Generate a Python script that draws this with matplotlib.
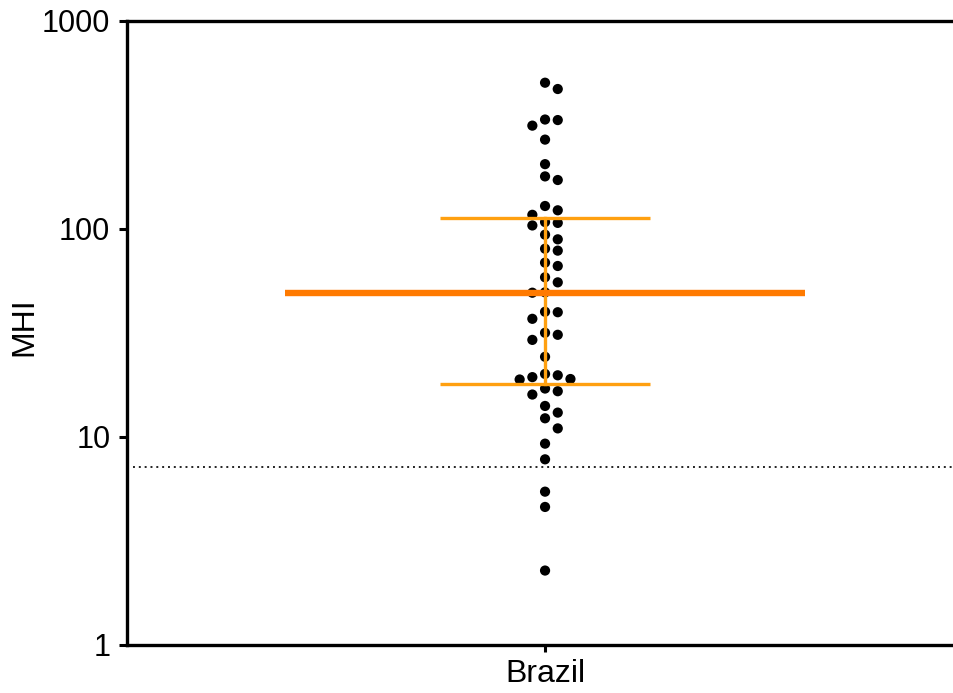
#!/usr/bin/env python3
"""
MHI per group: dot plot on log axis with median and interquartile range.
"""

import numpy as np
import matplotlib
matplotlib.use("Agg")
import matplotlib.pyplot as plt
from matplotlib.ticker import FixedLocator, NullLocator, FixedFormatter

# ---------------------- data ---------------------- #

group = "Brazil"
mhi = [505, 471, 336, 334, 314, 269, 205, 179, 172, 129, 123, 117, 108, 107, 104,
       93.9, 89.2, 80.4, 78.7, 68.9, 66.4, 58.6, 55.4, 49.6, 49.4, 40.0, 39.8, 37.0,
       31.7, 31.0, 29.3, 24.3, 20.1, 19.8, 19.4, 19.0, 18.9, 17.1, 16.6, 16.0, 14.1,
       13.1, 12.3, 11.0, 9.29, 7.81, 5.46, 4.61, 2.28]
cutoff = 7.18
y_ticks = [1, 10, 100, 1000]
y_tick_labels = ["1", "10", "100", "1000"]

plt.rcParams["font.family"] = ["Liberation Sans", "DejaVu Sans"]


def swarm_offsets(ax, values, x0, step_px, min_dist_px):
    """Greedy beeswarm: returns x offsets in data units."""
    values = np.asarray(values, dtype=float)
    pts = ax.transData.transform(np.column_stack([np.full(len(values), x0), values]))
    ys = pts[:, 1]
    order = np.argsort(-values)
    placed = []
    offsets = np.zeros(len(values))
    for i in order:
        dx = 0.0
        for k in [0, 1, -1, 2, -2, 3, -3, 4, -4]:
            dx = k * step_px
            if all((dx - px) ** 2 + (ys[i] - py) ** 2 >= min_dist_px ** 2 for px, py in placed):
                break
        placed.append((dx, ys[i]))
        offsets[i] = dx
    x0_px = ax.transData.transform((0, 1))[0]
    x1_px = ax.transData.transform((1, 1))[0]
    return offsets / (x1_px - x0_px)


def main():
    fig = plt.figure(figsize=(9.54, 6.93), dpi=100)
    ax = fig.add_axes([127 / 954, 48 / 693, 1 - 127 / 954, 624 / 693])

    ax.set_yscale("log")
    ax.set_ylim(1, 1000)
    ax.set_xlim(-0.643, 0.629)

    xs = swarm_offsets(ax, mhi, 0.0, 12.7, 10.5)
    ax.scatter(xs, mhi, s=54, color="black", edgecolors="none", zorder=2)

    q1, med, q3 = np.percentile(mhi, [25, 50, 75], method="weibull")
    ax.plot([-0.4, 0.4], [med, med], color="#ff7a00", lw=4.6,
            solid_capstyle="butt", zorder=4)
    ax.plot([-0.1615, 0.1615], [q3, q3], color="#ffa010", lw=2.4,
            solid_capstyle="butt", zorder=3)
    ax.plot([-0.1615, 0.1615], [q1, q1], color="#ffa010", lw=2.4,
            solid_capstyle="butt", zorder=3)
    ax.plot([0, 0], [q1, q3], color="#ffa010", lw=2.4, zorder=3)

    ax.axhline(cutoff, xmin=0.007, xmax=1, color="#222222", lw=1.4,
               linestyle=(0, (1, 2)), zorder=1)

    ax.yaxis.set_major_locator(FixedLocator(y_ticks))
    ax.yaxis.set_major_formatter(FixedFormatter(y_tick_labels))
    ax.yaxis.set_minor_locator(NullLocator())
    ax.set_xticks([0])
    ax.set_xticklabels([group])

    ax.tick_params(axis="y", length=6, width=2.2, pad=6, labelsize=22, color="black")
    ax.tick_params(axis="x", length=5, width=2.2, pad=5, labelsize=23, color="black")

    ax.set_ylabel("MHI", fontsize=23)
    ax.yaxis.set_label_coords(-0.106, 0.51)

    ax.spines["right"].set_visible(False)
    for side in ["left", "top", "bottom"]:
        ax.spines[side].set_linewidth(2.4)
        ax.spines[side].set_color("black")

    fig.savefig("out.png", dpi=100)
    plt.close(fig)


if __name__ == "__main__":
    main()
